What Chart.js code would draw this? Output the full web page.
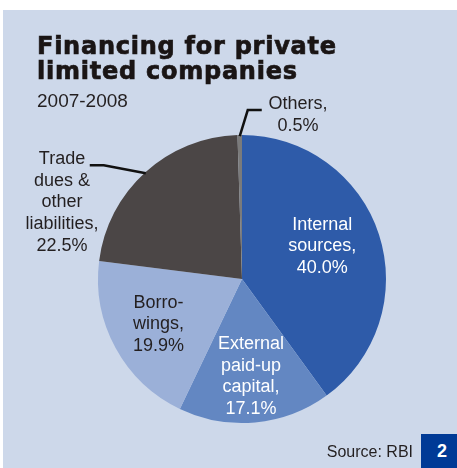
<!DOCTYPE html>
<html>
<head>
<meta charset="utf-8">
<script src="https://cdn.jsdelivr.net/npm/chart.js@4"></script>
<style>
  html, body { margin: 0; padding: 0; background: #ffffff; }
  #wrap { position: relative; width: 457px; height: 468px; overflow: hidden; }
  #panel { position: absolute; left: 3px; top: 10px; right: 0; bottom: 0; background: #cdd8ea; }
  #pieChart { position: absolute; left: 0; top: 0; }
  .title {
    position: absolute; left: 37px; top: 34px;
    font: bold 24px "DejaVu Sans", sans-serif; line-height: 24.5px;
    letter-spacing: 0.75px; color: #1a1515;
    -webkit-text-stroke: 0.7px #1a1515;
  }
  .sub {
    position: absolute; left: 37px; top: 91px;
    font: 19px "Liberation Sans", Arial, sans-serif; line-height: 19px; color: #231f20;
  }
  .source {
    position: absolute; right: 44px; top: 444px;
    font: 16px "Liberation Sans", Arial, sans-serif; line-height: 16px; color: #231f20;
  }
  .badge {
    position: absolute; left: 421px; top: 434px; width: 36px; height: 34px;
    background: #003a96; color: #ffffff; text-align: center;
    font: bold 18px "Liberation Sans", Arial, sans-serif; line-height: 34px;
    padding-left: 6px; box-sizing: border-box;
  }
</style>
</head>
<body>
<div id="wrap">
  <div id="panel"></div>
  <canvas id="pieChart" width="457" height="468"></canvas>
  <div class="title">Financing for private<br>limited companies</div>
  <div class="sub">2007-2008</div>
  <div class="source">Source: RBI</div>
  <div class="badge">2</div>
</div>
<script>
const categories = ['Internal sources', 'External paid-up capital', 'Borrowings', 'Trade dues & other liabilities', 'Others'];
const shares = [40.0, 17.1, 19.9, 22.5, 0.5];
const sliceColors = ['#2e5ba9', '#6387c2', '#9bb0d8', '#4b4646', '#7b7b7b'];
// wrapped label text, the percentage line is appended from shares
const labelLines = [
    ['Internal', 'sources,'],
    ['External', 'paid-up', 'capital,'],
    ['Borro-', 'wings,'],
    ['Trade', 'dues &', 'other', 'liabilities,'],
    ['Others,']
];

// where each label sits: inside labels by radius fraction, outside ones with a leader line
const labelPlacement = [
    { inside: true, r: 0.6, dx: -2, dy: -6, color: '#ffffff' },
    { inside: true, r: 0.68, dx: 0, dy: 0, color: '#ffffff' },
    { inside: true, r: 0.66, dx: 0, dy: 0, color: '#231f20' },
    { inside: false, elbow: [-42, -8], end: [-56, -8], text: [62, 159], color: '#231f20' },
    { inside: false, elbow: [8, -26], end: [22, -26], text: [298, 104], color: '#231f20' }
];

const sliceLabels = {
    id: 'sliceLabels',
    afterDatasetsDraw(chart) {
        const ctx = chart.ctx;
        const arcs = chart.getDatasetMeta(0).data;
        const lh = 21.7;
        ctx.save();
        ctx.font = '18px "Liberation Sans", Arial, sans-serif';
        ctx.textAlign = 'center';
        ctx.textBaseline = 'middle';
        arcs.forEach((arc, i) => {
            const p = labelPlacement[i];
            const lines = labelLines[i].concat([shares[i].toFixed(1) + '%']);
            const mid = (arc.startAngle + arc.endAngle) / 2;
            let cx, cy;
            if (p.inside) {
                cx = arc.x + Math.cos(mid) * arc.outerRadius * p.r + p.dx;
                cy = arc.y + Math.sin(mid) * arc.outerRadius * p.r + p.dy - (lines.length - 1) * lh / 2;
            } else {
                const sx = arc.x + Math.cos(mid) * (arc.outerRadius - 1);
                const sy = arc.y + Math.sin(mid) * (arc.outerRadius - 1);
                ctx.beginPath();
                ctx.moveTo(sx, sy);
                ctx.lineTo(sx + p.elbow[0], sy + p.elbow[1]);
                ctx.lineTo(sx + p.end[0], sy + p.end[1]);
                ctx.strokeStyle = '#111111';
                ctx.lineWidth = 2.5;
                ctx.stroke();
                cx = p.text[0];
                cy = p.text[1];
            }
            ctx.fillStyle = p.color;
            lines.forEach((t, k) => ctx.fillText(t, cx, cy + k * lh));
        });
        ctx.restore();
    }
};

new Chart(document.getElementById('pieChart').getContext('2d'), {
    type: 'pie',
    data: {
        labels: categories,
        datasets: [{
            data: shares,
            backgroundColor: sliceColors,
            borderWidth: 0,
            hoverBorderWidth: 0,
            hoverOffset: 0,
            offset: 0
        }]
    },
    options: {
        responsive: false,
        animation: false,
        events: [],
        layout: { padding: { left: 98, right: 71, top: 135, bottom: 45 } },
        plugins: {
            legend: { display: false },
            tooltip: { enabled: false }
        }
    },
    plugins: [sliceLabels]
});
</script>
</body>
</html>
